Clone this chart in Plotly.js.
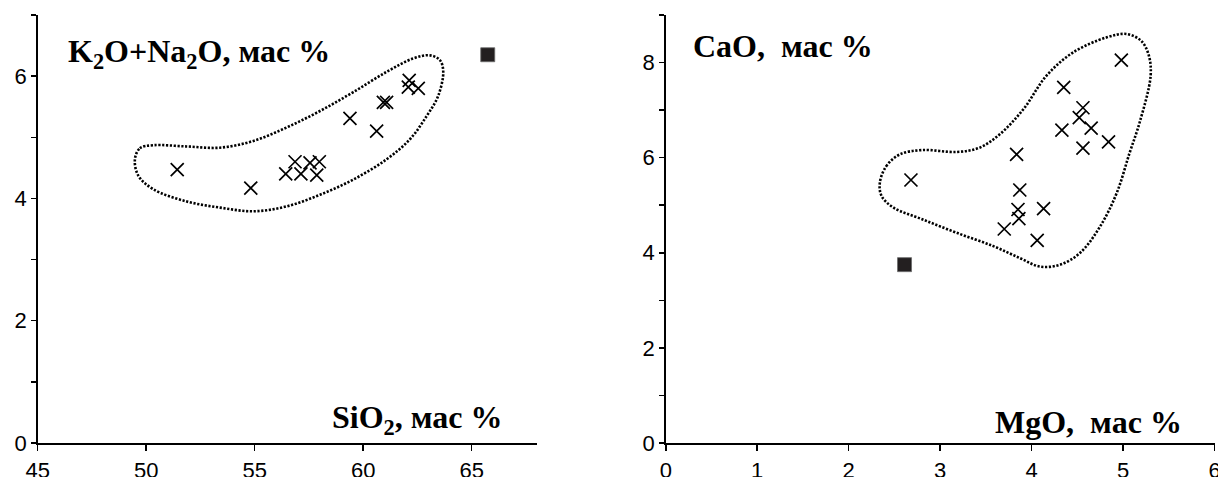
<!DOCTYPE html>
<html>
<head>
<meta charset="utf-8">
<script src="https://cdn.plot.ly/plotly-3.0.1.min.js"></script>
<style>html,body{margin:0;padding:0;background:#fff;}#chart{width:1218px;height:477px;}</style>
</head>
<body>
<div id="chart"></div>
<script>
// Left diagram: SiO2 vs K2O+Na2O
const siO2 = [51.43, 54.82, 56.43, 56.86, 57.13, 57.55, 57.86, 57.98, 59.39, 60.62, 60.93, 61.08, 62.12, 62.08, 62.54];
const alk  = [4.47, 4.17, 4.40, 4.60, 4.40, 4.58, 4.38, 4.60, 5.31, 5.10, 5.57, 5.57, 5.93, 5.82, 5.80];
const siO2Sq = [65.74];
const alkSq  = [6.35];
const fieldLx = [49.48, 49.71, 50.33, 51.87, 53.40, 54.94, 56.47, 58.01, 59.55, 61.08, 62.31, 63.08, 63.54, 63.69, 63.46, 62.93, 62.16, 61.08, 59.55, 58.01, 56.47, 54.94, 53.40, 51.87, 50.33, 49.64, 49.48];
const fieldLy = [4.64, 4.82, 4.87, 4.85, 4.83, 4.94, 5.16, 5.43, 5.74, 6.07, 6.29, 6.34, 6.26, 6.07, 5.68, 5.35, 4.97, 4.64, 4.31, 4.06, 3.87, 3.79, 3.85, 3.95, 4.15, 4.37, 4.64];

// Right diagram: MgO vs CaO
const mgO = [2.68, 3.835, 3.87, 3.85, 3.86, 4.13, 3.70, 4.06, 4.35, 4.33, 4.56, 4.52, 4.65, 4.56, 4.84, 4.98];
const caO = [5.53, 6.07, 5.32, 4.91, 4.72, 4.93, 4.50, 4.26, 7.48, 6.58, 7.05, 6.84, 6.62, 6.20, 6.33, 8.05];
const mgOSq = [2.61];
const caOSq = [3.75];
const fieldRx = [2.34, 2.41, 2.56, 2.81, 3.18, 3.43, 3.65, 3.91, 4.16, 4.45, 4.82, 5.04, 5.20, 5.28, 5.30, 5.18, 5.07, 4.93, 4.75, 4.53, 4.31, 4.09, 3.87, 3.58, 3.18, 2.81, 2.49, 2.36, 2.34];
const fieldRy = [5.47, 5.82, 6.07, 6.16, 6.12, 6.21, 6.49, 7.02, 7.72, 8.21, 8.53, 8.60, 8.45, 8.15, 7.72, 6.74, 6.10, 5.26, 4.56, 4.00, 3.75, 3.71, 3.89, 4.14, 4.42, 4.70, 4.95, 5.19, 5.47];

const xTicksL = [45, 50, 55, 60, 65];
const xTicksR = [0, 1, 2, 3, 4, 5, 6];
const yTicksL = [0, 2, 4, 6];
const yTicksR = [0, 2, 4, 6, 8];

const titleL = 'K<sub>2</sub>O+Na<sub>2</sub>O, мас %';
const xTitleL = 'SiO<sub>2</sub>, мас %';
const titleR = 'CaO,&nbsp; мас %';
const xTitleR = 'MgO,&nbsp; мас %';

const dotLine = {color: '#000', width: 2.6, dash: '2.2px,1.6px', shape: 'spline', smoothing: 1.0};
const crossM = {symbol: 'x-thin-open', size: 13, line: {color: '#000', width: 1.7}, color: '#000'};
const sqM = {symbol: 'square', size: 14, color: '#231f20', line: {color: '#6b6b6b', width: 0.8}};

const traces = [
  {x: fieldLx, y: fieldLy, xaxis: 'x', yaxis: 'y', mode: 'lines', line: dotLine, hoverinfo: 'skip'},
  {x: siO2, y: alk, xaxis: 'x', yaxis: 'y', mode: 'markers', marker: crossM},
  {x: siO2Sq, y: alkSq, xaxis: 'x', yaxis: 'y', mode: 'markers', marker: sqM},
  {x: fieldRx, y: fieldRy, xaxis: 'x2', yaxis: 'y2', mode: 'lines', line: dotLine, hoverinfo: 'skip'},
  {x: mgO, y: caO, xaxis: 'x2', yaxis: 'y2', mode: 'markers', marker: crossM},
  {x: mgOSq, y: caOSq, xaxis: 'x2', yaxis: 'y2', mode: 'markers', marker: sqM}
];

const tickFont = {family: 'Liberation Sans', size: 22, color: '#000'};
function xax(domain, range, vals, anchor) {
  return {domain: domain, range: range, anchor: anchor, tickmode: 'array', tickvals: vals, ticktext: vals.map(String),
    showline: true, linecolor: '#000', linewidth: 1.5, ticks: 'outside', ticklen: 6, tickwidth: 1.5, tickcolor: '#000',
    ticklabeloverflow: 'allow', ticklabelstandoff: 1,
    showgrid: false, zeroline: false, tickfont: tickFont, fixedrange: true};
}
function yax(range, vals, anchor) {
  return {domain: [0, 1], range: range, anchor: anchor, tickmode: 'array', tickvals: vals, ticktext: vals.map(String),
    showline: true, linecolor: '#000', linewidth: 1.5, ticks: 'outside', ticklen: 5, tickwidth: 1.5, tickcolor: '#000',
    minor: {dtick: 1, tick0: 0, ticks: 'outside', ticklen: 5, tickwidth: 1.5, tickcolor: '#000', showgrid: false},
    ticklabeloverflow: 'allow',
    showgrid: false, zeroline: false, tickfont: tickFont, fixedrange: true};
}

const annFont = {family: 'Liberation Serif', size: 32, color: '#000', weight: 'bold'};
const layout = {
  width: 1218, height: 477,
  margin: {l: 0, r: 0, t: 15, b: 34, pad: 0},
  paper_bgcolor: '#fff', plot_bgcolor: '#fff',
  showlegend: false,
  xaxis: xax([0.03095, 0.4407], [45, 68], xTicksL, 'y'),
  yaxis: yax([0, 7], yTicksL, 'x'),
  xaxis2: xax([0.5466, 0.9973], [0, 6.0005], xTicksR, 'y2'),
  yaxis2: yax([0, 9], yTicksR, 'x2'),
  annotations: [
    {text: '<b>' + titleL + '</b>', xref: 'paper', yref: 'paper', x: 66/1218, y: (443-54)/428, xanchor: 'left', yanchor: 'middle', showarrow: false, font: annFont},
    {text: '<b>' + xTitleL + '</b>', xref: 'paper', yref: 'paper', x: 505/1218, y: (443-419)/428, xanchor: 'right', yanchor: 'middle', showarrow: false, font: annFont},
    {text: '<b>' + titleR + '</b>', xref: 'paper', yref: 'paper', x: 691/1218, y: (443-46)/428, xanchor: 'left', yanchor: 'middle', showarrow: false, font: annFont},
    {text: '<b>' + xTitleR + '</b>', xref: 'paper', yref: 'paper', x: 1184/1218, y: (443-422)/428, xanchor: 'right', yanchor: 'middle', showarrow: false, font: annFont}
  ]
};

Plotly.newPlot('chart', traces, layout, {displayModeBar: false, staticPlot: true});
</script>
</body>
</html>
